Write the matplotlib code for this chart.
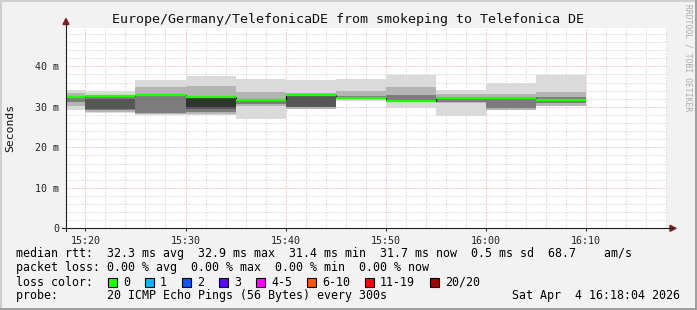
import numpy as np
import matplotlib.pyplot as plt
from matplotlib.patches import Rectangle, Polygon
from matplotlib.lines import Line2D
from matplotlib.transforms import Affine2D

# ── Data (time in minutes after 15:00, values in ms) ─────────────────────────

t_start = 18 + 4 / 60          # 15:18:04
t_end   = 78 + 4 / 60          # 16:18:04
step    = 5                    # 300 s probe interval
seg_end = [20, 25, 30, 35, 40, 45, 50, 55, 60, 65, 70]

median = [32.4, 32.7, 32.9, 32.4, 31.8, 32.8, 32.1, 31.4, 32.1, 32.1, 31.6]

# smoke bands, outer (light) -> inner (dark)
nan = np.nan
b1_lo = [29.1, 28.5, 28.0, 28.0, 27.0, 29.5, 31.5, 29.8, 27.8, 29.3, 30.3]
b1_hi = [34.2, 34.0, 36.5, 37.5, 36.9, 36.5, 36.9, 37.9, 34.2, 36.0, 37.9]
b2_lo = [30.3, 28.8, 28.3, 28.2, 30.3, 29.5, 31.9, 31.1, 30.9, 29.3, 30.3]
b2_hi = [33.4, 32.6, 34.8, 35.2, 33.6, 33.5, 34.0, 34.8, 33.2, 33.2, 33.6]
b3_lo = [31.2, 29.1, 28.5, 28.8, 30.7, 29.9, 32.0, 31.3, 31.2, 29.6, 30.9]
b3_hi = [32.6, 32.3, 32.9, 32.4, 31.9, 32.8, 32.6, 33.0, 32.5, 32.4, 32.3]
b4_lo = [nan, 29.4, nan, 29.5, nan, 30.0, nan, nan, nan, nan, nan]
b4_hi = [nan, 32.0, nan, 32.4, nan, 32.7, nan, nan, nan, nan, nan]
b5_lo = [nan, nan, nan, 29.9, nan, nan, nan, nan, nan, nan, nan]
b5_hi = [nan, nan, nan, 32.2, nan, nan, nan, nan, nan, nan, nan]

x_ticks  = [20, 30, 40, 50, 60, 70]
x_labels = ['15:20', '15:30', '15:40', '15:50', '16:00', '16:10']
y_ticks  = [0, 10, 20, 30, 40]
y_labels = ['0', '10 m', '20 m', '30 m', '40 m']

loss_labels = ['0', '1', '2', '3', '4-5', '6-10', '11-19', '20/20']
loss_colors = ['#26ff00', '#00b8ff', '#0059ff', '#5e00ff', '#ff00fe',
               '#ff5500', '#ff0000', '#a10000']

title   = 'Europe/Germany/TelefonicaDE from smokeping to Telefonica DE'
row_rtt = 'median rtt:  32.3 ms avg  32.9 ms max  31.4 ms min  31.7 ms now  0.5 ms sd  68.7    am/s'
row_pl  = 'packet loss: 0.00 % avg  0.00 % max  0.00 % min  0.00 % now'
row_pr  = 'probe:       20 ICMP Echo Pings (56 Bytes) every 300s'
stamp   = 'Sat Apr  4 16:18:04 2026'

# ── Figure ───────────────────────────────────────────────────────────────────

W, H = 697, 310
MONO = 'DejaVu Sans Mono'
fig = plt.figure(figsize=(W / 100, H / 100), dpi=100)
fig.patch.set_facecolor('#f2f2f2')
px = Affine2D().scale(1 / W, -1 / H).translate(0, 1) + fig.transFigure

L, R, T, B = 66, 667, 27.5, 228.3
ax = fig.add_axes([L / W, 1 - B / H, (R - L) / W, (B - T) / H])
ax.set_facecolor('white')
ax.set_xlim(t_start, t_end)
ax.set_ylim(0, (B - T) / 4.05)
ax.set_axisbelow(True)

starts = np.array(seg_end) - step
bands = [(b1_lo, b1_hi, '#dadada'), (b2_lo, b2_hi, '#b4b4b4'),
         (b3_lo, b3_hi, '#7c7c7c'), (b4_lo, b4_hi, '#575757'),
         (b5_lo, b5_hi, '#333333')]
for lo, hi, col in bands:
    lo, hi = np.array(lo), np.array(hi)
    ax.bar(starts, hi - lo, width=step, bottom=lo, align='edge',
           color=col, linewidth=0, zorder=2)

ax.vlines(seg_end[:-1], median[:-1], median[1:], color='black', lw=0.8, zorder=3)
ax.hlines(median, starts, seg_end, color='#22ff00', lw=1.7, zorder=4)

ax.set_xticks(x_ticks)
ax.set_xticklabels(x_labels)
ax.set_xticks(np.arange(20, 79, 2), minor=True)
ax.set_yticks(y_ticks)
ax.set_yticklabels(y_labels)
ax.set_yticks(np.arange(0, 49, 2), minor=True)
ax.grid(which='minor', color='#c4c4c4', ls=(0, (1, 2)), lw=0.72, zorder=0.5)
ax.grid(which='major', color='#eb9a9a', ls=(0, (1, 2)), lw=0.72, zorder=0.5)
ax.tick_params(which='both', direction='out', color='#1f1f1f', width=0.7)
ax.tick_params(axis='x', which='major', length=2.5, pad=3)
ax.tick_params(axis='x', which='minor', length=0)
ax.tick_params(axis='y', which='both', length=0, pad=5)
for lab in ax.get_xticklabels() + ax.get_yticklabels():
    lab.set_fontfamily(MONO)
    lab.set_fontsize(7.2)
    lab.set_color('#222222')
for s in ax.spines.values():
    s.set_visible(False)

# axes lines with arrows
fig.add_artist(Line2D([L, L], [B + 3, T - 4], color='#1f1f1f', lw=0.8, transform=px))
fig.add_artist(Line2D([L - 4, R + 5], [B, B], color='#1f1f1f', lw=0.8, transform=px))
fig.add_artist(Polygon([[L - 3, T - 3], [L + 3, T - 3], [L, T - 9]],
                       closed=True, color='#801f1f', transform=px))
fig.add_artist(Polygon([[R + 3, B - 3], [R + 3, B + 3], [R + 9, B]],
                       closed=True, color='#801f1f', transform=px))

# border
fig.add_artist(Line2D([0, W], [0.7, 0.7], color='#cfcfcf', lw=1.4, transform=px))
fig.add_artist(Line2D([0.7, 0.7], [0, H], color='#cfcfcf', lw=1.4, transform=px))
fig.add_artist(Line2D([0, W], [H - 0.7, H - 0.7], color='#9e9e9e', lw=1.4, transform=px))
fig.add_artist(Line2D([W - 0.7, W - 0.7], [0, H], color='#9e9e9e', lw=1.4, transform=px))

# texts
fig.text(348.5, 19, title, transform=px, ha='center', va='center',
         family=MONO, fontsize=9.6, color='#111111')
fig.text(10, 128, 'Seconds', transform=px, ha='center', va='center',
         rotation=90, family=MONO, fontsize=8.2, color='#111111')
fig.text(688, 4, 'RRDTOOL / TOBI OETIKER', transform=px, ha='center', va='top',
         rotation=270, family=MONO, fontsize=5.8, color='#aaaaaa')

fig.text(16, 254, row_rtt, transform=px, va='center', family=MONO, fontsize=8.4)
fig.text(16, 268, row_pl, transform=px, va='center', family=MONO, fontsize=8.4)
fig.text(16, 282, 'loss color:', transform=px, va='center', family=MONO, fontsize=8.4)
fig.text(16, 296, row_pr, transform=px, va='center', family=MONO, fontsize=8.4)
fig.text(680, 296, stamp, transform=px, ha='right', va='center', family=MONO, fontsize=8.4)

cur = 108
for lab, col in zip(loss_labels, loss_colors):
    fig.add_artist(Rectangle((cur, 277.5), 9, 9, facecolor=col, edgecolor='black',
                             lw=0.8, transform=px))
    fig.text(cur + 15, 282, lab, transform=px, va='center', family=MONO, fontsize=8.4)
    cur += 15 + 7 * len(lab) + 15

fig.savefig('out.png', dpi=100, facecolor=fig.get_facecolor())
